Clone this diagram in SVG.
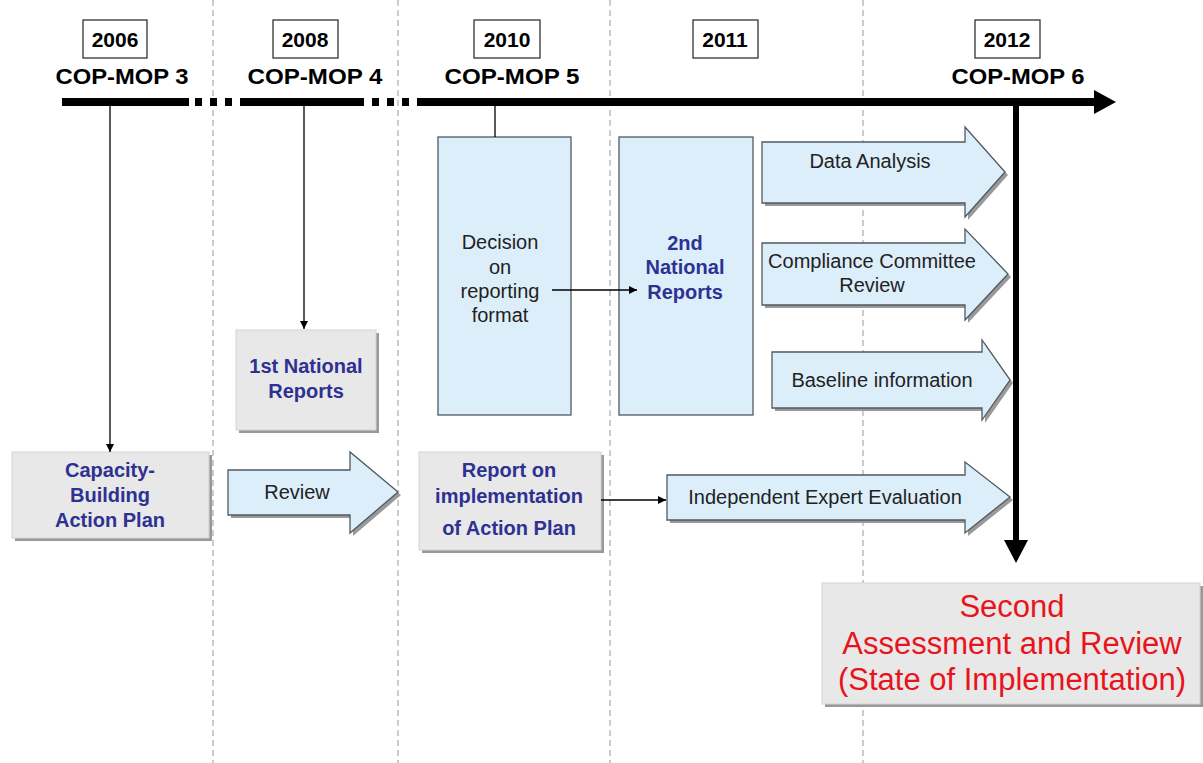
<svg xmlns="http://www.w3.org/2000/svg" width="1203" height="763" viewBox="0 0 1203 763">
<defs>
<style>
.sep{stroke:#aaa;stroke-width:1.2;stroke-dasharray:6,4;fill:none}
.yr{fill:#fff;stroke:#333;stroke-width:1.3}
.yt{font-family:"Liberation Sans",Arial,sans-serif;font-weight:bold;font-size:21px;fill:#000;text-anchor:middle}
.cop{font-family:"Liberation Sans",Arial,sans-serif;font-weight:bold;font-size:22px;fill:#000;text-anchor:middle}
.grey{fill:#e8e8e8;stroke:#d4d4d4;stroke-width:1}
.blue{fill:#ddeefb;stroke:#505a60;stroke-width:1.3}
.shd{fill:#999}
.bt{font-family:"Liberation Sans",Arial,sans-serif;font-weight:bold;font-size:20px;fill:#2e3192;text-anchor:middle}
.nt{font-family:"Liberation Sans",Arial,sans-serif;font-size:20px;fill:#222;text-anchor:middle}
.rt{font-family:"Liberation Sans",Arial,sans-serif;font-size:31px;fill:#e8141b;text-anchor:middle}
.ln{stroke:#000;stroke-width:1.3;fill:none}
</style>
<marker id="ah" viewBox="0 0 10 10" refX="10" refY="5" markerWidth="8" markerHeight="8" markerUnits="userSpaceOnUse" orient="auto"><path d="M0,0 L10,5 L0,10 z" fill="#000"/></marker>
</defs>
<rect width="1203" height="763" fill="#fff"/>
<g id="separators">
<line class="sep" x1="213" y1="0" x2="213" y2="763"/>
<line class="sep" x1="398" y1="0" x2="398" y2="763"/>
<line class="sep" x1="610" y1="0" x2="610" y2="763"/>
<line class="sep" x1="863" y1="0" x2="863" y2="763"/>
</g>
<g id="timeline">
<rect x="62" y="98" width="127" height="8" fill="#000"/>
<rect x="195" y="98" width="7" height="8" fill="#000"/>
<rect x="210" y="98" width="7" height="8" fill="#000"/>
<rect x="225" y="98" width="7" height="8" fill="#000"/>
<rect x="240" y="98" width="124" height="8" fill="#000"/>
<rect x="372" y="98" width="7" height="8" fill="#000"/>
<rect x="387" y="98" width="7" height="8" fill="#000"/>
<rect x="402" y="98" width="7" height="8" fill="#000"/>
<rect x="417" y="98" width="679" height="8" fill="#000"/>
<path d="M1094,90 L1116,102 L1094,114 z" fill="#000"/>
</g>
<g id="year-2006"><rect class="yr" x="83" y="20" width="64" height="38"/><text class="yt" x="115" y="47">2006</text><text class="cop" x="122" y="84" textLength="133" lengthAdjust="spacingAndGlyphs">COP-MOP 3</text></g>
<g id="year-2008"><rect class="yr" x="273" y="20" width="65" height="38"/><text class="yt" x="305" y="47">2008</text><text class="cop" x="315" y="84" textLength="135" lengthAdjust="spacingAndGlyphs">COP-MOP 4</text></g>
<g id="year-2010"><rect class="yr" x="474" y="20" width="66" height="38"/><text class="yt" x="507" y="47">2010</text><text class="cop" x="512" y="84" textLength="135" lengthAdjust="spacingAndGlyphs">COP-MOP 5</text></g>
<g id="year-2011"><rect class="yr" x="693" y="20" width="65" height="38"/><text class="yt" x="725" y="47">2011</text></g>
<g id="year-2012"><rect class="yr" x="975" y="20" width="65" height="38"/><text class="yt" x="1007" y="47">2012</text><text class="cop" x="1018" y="84" textLength="133" lengthAdjust="spacingAndGlyphs">COP-MOP 6</text></g>
<g id="capacity-building"><rect class="shd" x="15" y="455" width="197" height="86"/><rect class="grey" x="12" y="452" width="197" height="86"/><text class="bt" x="110" y="477">Capacity-</text><text class="bt" x="110" y="502">Building</text><text class="bt" x="110" y="527">Action Plan</text></g>
<g id="first-national"><rect class="shd" x="239" y="333" width="140" height="100"/><rect class="grey" x="236" y="330" width="140" height="100"/><text class="bt" x="306" y="373">1st National</text><text class="bt" x="306" y="398">Reports</text></g>
<g id="review"><path class="shd" d="M231,473 L353,473 L353,455 L401,495 L353,536 L353,518 L231,518 z"/><path class="blue" d="M228,470 L350,470 L350,452 L398,492 L350,533 L350,515 L228,515 z"/><text class="nt" x="297" y="499">Review</text></g>
<g id="decision"><rect class="blue" x="438" y="137" width="133" height="278"/><text class="nt" x="500" y="249">Decision</text><text class="nt" x="500" y="274">on</text><text class="nt" x="500" y="298">reporting</text><text class="nt" x="500" y="322">format</text></g>
<g id="second-national"><rect class="blue" x="619" y="137" width="134" height="278"/><text class="bt" x="685" y="250">2nd</text><text class="bt" x="685" y="274">National</text><text class="bt" x="685" y="299">Reports</text></g>
<g id="data-analysis"><path class="shd" d="M765,145 L968,145 L968,130 L1008,175 L968,220 L968,206 L765,206 z"/><path class="blue" d="M762,142 L965,142 L965,127 L1005,172 L965,217 L965,203 L762,203 z"/><text class="nt" x="870" y="168">Data Analysis</text></g>
<g id="compliance"><path class="shd" d="M765,246 L968,246 L968,232 L1011,277 L968,323 L968,308 L765,308 z"/><path class="blue" d="M762,243 L965,243 L965,229 L1008,274 L965,320 L965,305 L762,305 z"/><text class="nt" x="872" y="268">Compliance Committee</text><text class="nt" x="872" y="292">Review</text></g>
<g id="baseline"><path class="shd" d="M775,355 L985,355 L985,343 L1013,383 L985,423 L985,411 L775,411 z"/><path class="blue" d="M772,352 L982,352 L982,340 L1010,380 L982,420 L982,408 L772,408 z"/><text class="nt" x="882" y="387">Baseline information</text></g>
<g id="report-implementation"><rect class="shd" x="422" y="455" width="182" height="98"/><rect class="grey" x="419" y="452" width="182" height="98"/><text class="bt" x="509" y="477">Report on</text><text class="bt" x="509" y="503">implementation</text><text class="bt" x="509" y="535">of Action Plan</text></g>
<g id="independent"><path class="shd" d="M670,478 L968,478 L968,465 L1013,500 L968,536 L968,523 L670,523 z"/><path class="blue" d="M667,475 L965,475 L965,462 L1010,497 L965,533 L965,520 L667,520 z"/><text class="nt" x="825" y="504">Independent Expert Evaluation</text></g>
<g id="second-assessment"><rect class="shd" x="825" y="586" width="378" height="121"/><rect class="grey" x="822" y="583" width="378" height="121"/><text class="rt" x="1012" y="617">Second</text><text class="rt" x="1012" y="654">Assessment and Review</text><text class="rt" x="1012" y="690">(State of Implementation)</text></g>
<g id="connectors">
<line class="ln" x1="110" y1="106" x2="110" y2="452" marker-end="url(#ah)"/>
<line class="ln" x1="304" y1="106" x2="304" y2="329" marker-end="url(#ah)"/>
<line class="ln" x1="495" y1="106" x2="495" y2="137"/>
<line class="ln" x1="552" y1="290" x2="637" y2="290" marker-end="url(#ah)"/>
<line class="ln" x1="601" y1="500" x2="666" y2="500" marker-end="url(#ah)"/>
<line x1="1016" y1="106" x2="1016" y2="545" stroke="#000" stroke-width="6"/>
<path d="M1004,540 L1028,540 L1016,563 z" fill="#000"/>
</g>
</svg>
